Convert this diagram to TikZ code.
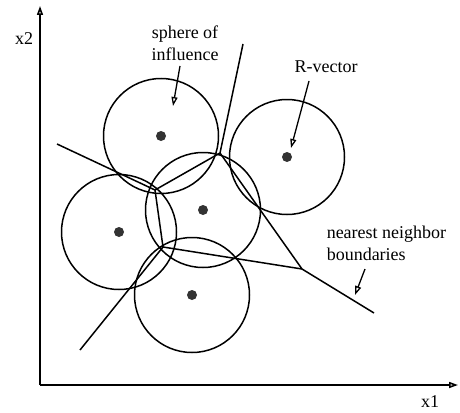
\documentclass[tikz,border=0pt]{standalone}
\usepackage{fontspec}
\setmainfont{Liberation Serif}
\usetikzlibrary{arrows.meta}
\begin{document}
\begin{tikzpicture}[x=1pt,y=-1pt,
  line width=1.5pt,
  sphere/.style={draw, line width=1.5pt},
  rvec/.style={circle, fill=black!80, inner sep=0pt, minimum size=10pt},
  bound/.style={line width=1.5pt},
  lbl/.style={font=\fontsize{18}{22}\selectfont, inner sep=0pt},
  ptr/.style={line width=1.3pt, -{Triangle[open, length=9pt, width=6pt]}},
  axis/.style={line width=1.6pt, -{Triangle[open, length=9pt, width=6pt]}}]
\useasboundingbox (0,0) rectangle (460,412);
% axes
\coordinate (O) at (40,385);
\coordinate (Xend) at (458,385);
\coordinate (Yend) at (40,6);
\draw[axis] (O) -- (Xend);
\draw[axis] (O) -- (Yend);
\node[lbl] (x2) at (24,39) {x2};
\node[lbl] (x1) at (430,402) {x1};
% centers
\coordinate (c1) at (161,136);
\coordinate (c2) at (287,157);
\coordinate (c3) at (119,232);
\coordinate (c4) at (203,210);
\coordinate (c5) at (192,295);
\foreach \c in {c1,c2,c3,c4,c5}{
  \draw[sphere] (\c) circle (57.5);
  \node[rvec] (d\c) at (\c) {};
}
% voronoi vertices and ray ends
\coordinate (A) at (155,190);
\coordinate (B) at (220,153);
\coordinate (C) at (302,269);
\coordinate (D) at (163,247);
\coordinate (rA) at (57,144);
\coordinate (rB) at (243,44);
\coordinate (rC) at (374,313);
\coordinate (rD) at (80,350);
\draw[bound] (rA) -- (A) -- (B) -- (rB);
\draw[bound] (A) -- (D) -- (rD);
\draw[bound] (B) -- (C) -- (rC);
\draw[bound] (D) -- (C);
% labels
\node[lbl, align=center] (sph) at (185,43) {sphere of\\influence};
\node[lbl] (rv) at (326,67) {R-vector};
\node[lbl, align=left, anchor=west] (nnb) at (326,243) {nearest neighbor\\boundaries};
\coordinate (p1s) at (180,66);
\coordinate (p1e) at (173,106);
\coordinate (p2s) at (309,81);
\coordinate (p2e) at (291,148);
\coordinate (p3s) at (365,269);
\coordinate (p3e) at (355,295);
\draw[ptr] (p1s) -- (p1e);
\draw[ptr] (p2s) -- (p2e);
\draw[ptr] (p3s) -- (p3e);
\end{tikzpicture}
\end{document}
